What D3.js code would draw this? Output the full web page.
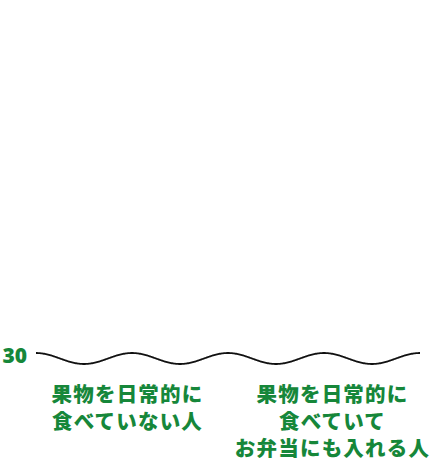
<!DOCTYPE html>
<html>
<head>
<meta charset="utf-8">
<script src="https://cdn.jsdelivr.net/npm/d3@7"></script>
<style>
  body { margin: 0; background: #fff; }
  svg { display: block; }
</style>
</head>
<body>
<div id="chart"></div>
<script>
// category labels, one entry per line
const categories = ["nonEaters", "bentoEaters"];
const categoryLines = [
    ["果物を日常的に", "食べていない人"],
    ["果物を日常的に", "食べていて", "お弁当にも入れる人"]
];
// the only tick left on the broken y axis
const yTicks = [30];
const yDomain = [30, 60];

const w = 431;
const h = 461;
const green = "#16873a";
const font = "'Noto Sans CJK JP', 'Noto Sans', sans-serif";

const svg = d3.select("#chart")
    .append("svg")
    .attr("width", w)
    .attr("height", h);

// scales
const xScale = d3.scaleBand().domain(categories).range([24, 434]);
const yScale = d3.scaleLinear().domain(yDomain).range([358.5, 40]);

// y axis: just the tick label, no line
const yAxis = d3.axisLeft(yScale).tickValues(yTicks).tickSize(0).tickPadding(0);
const yg = svg.append("g").attr("transform", "translate(27,0)").call(yAxis);
yg.select(".domain").remove();
yg.selectAll("text")
    .attr("dy", "0.35em")
    .attr("y", -3)
    .style("font-family", "'Open Sans', 'Noto Sans', sans-serif")
    .style("font-weight", "800")
    .style("font-size", "21px")
    .style("fill", green);

// wavy baseline showing the axis break
const x0 = 36, x1 = 420, period = 96, amp = 5.5;
const waveData = d3.range(x0, x1 + 0.5, 1);
const wave = d3.line()
    .x(d => d)
    .y(d => yScale(yDomain[0]) - amp * Math.cos(2 * Math.PI * (d - x0) / period))
    .curve(d3.curveBasis);
svg.append("path")
    .datum(waveData)
    .attr("d", wave)
    .attr("fill", "none")
    .attr("stroke", "#111")
    .attr("stroke-width", 1.8);

// category labels
const labels = svg.selectAll("g.label")
    .data(categories)
    .enter()
    .append("g")
    .attr("class", "label");
labels.each(function (d, i) {
    d3.select(this).selectAll("text")
        .data(categoryLines[i])
        .enter()
        .append("text")
        .attr("x", xScale(d) + xScale.bandwidth() / 2 + 1)
        .attr("y", (t, j) => 402 + j * 27)
        .attr("text-anchor", "middle")
        .style("font-family", font)
        .style("font-weight", "900")
        .style("font-size", "20.5px")
        .style("letter-spacing", "1.2px")
        .style("fill", green)
        .text(t => t);
});
</script>
</body>
</html>
